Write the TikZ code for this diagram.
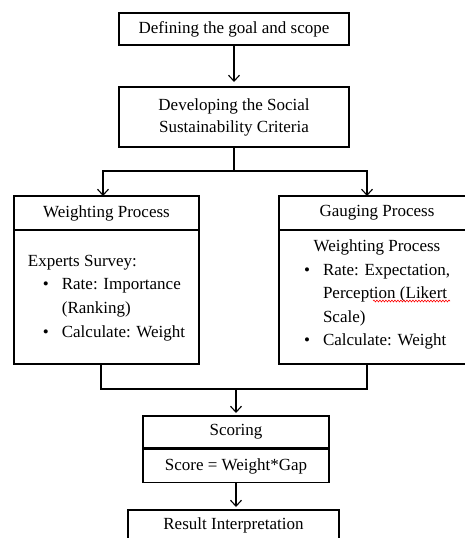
\documentclass[tikz,border=0pt]{standalone}
\usepackage{fontspec}
\setmainfont{Liberation Serif}
\usetikzlibrary{arrows.meta, positioning, decorations.pathmorphing}
\newcommand{\bul}{\makebox[19pt][l]{\textbullet}}

\begin{document}
\begin{tikzpicture}[
  x=1pt, y=1pt,
  box/.style={draw=black, line width=1.1pt, outer sep=0pt, inner sep=2pt,
              align=center, font=\fontsize{17}{22}\selectfont},
  line/.style={draw=black, line width=1.1pt},
  arr/.style={line, -{Straight Barb[length=6pt, width=11pt, line width=1.1pt]},
              shorten >=3pt},
  node distance=42pt,
]
  \useasboundingbox (0,0) rectangle (465,-538);

  \node[box, minimum width=230pt, minimum height=32pt] (goal) at (234,-29)
    {Defining the goal and scope};
  \node[box, minimum width=230pt, minimum height=60pt, below=of goal] (crit)
    {Developing the Social\\Sustainability Criteria};

  % the two processes
  \node[box, minimum width=185pt, minimum height=34pt] (whdr) at (106.5,-213)
    {Weighting Process};
  \node[box, minimum width=185pt, minimum height=134pt, below=0pt of whdr] (wbody)
    {\renewcommand\arraystretch{1.07}\begin{tabular}{@{}l@{}l@{}}
      \multicolumn{2}{@{}l@{}}{Experts Survey:}\\
      \hspace*{15pt}\bul & Rate: Importance\\
       & (Ranking)\\
      \hspace*{15pt}\bul & Calculate: Weight
    \end{tabular}};
  \node[box, minimum width=196pt, minimum height=34pt] (ghdr) at (377,-213)
    {Gauging Process};
  \node[box, minimum width=196pt, minimum height=134pt, below=0pt of ghdr] (gbody)
    {\renewcommand\arraystretch{1.07}\raisebox{3pt}[\height][\depth]{\begin{tabular}{@{}l@{}l@{}}
      \multicolumn{2}{@{}c@{}}{Weighting Process}\\
      \bul & Rate: Expectation,\\
       & Perception (Likert\\
       & Scale)\\
      \bul & Calculate: Weight
    \end{tabular}}};

  % scoring and result
  \node[box, minimum width=186pt, minimum height=32pt] (score) at (236,-432)
    {Scoring};
  \node[box, minimum width=186pt, minimum height=33pt, below=1.5pt of score] (formula)
    {Score = Weight*Gap};
  \node[box, minimum width=211pt, anchor=north, text height=12pt, text depth=14pt,
        inner ysep=7pt] (result) at (233.5,-510)
    {Result Interpretation};

  \draw[arr, shorten >=5pt] (goal) -- (crit);
  \draw[line] (crit.south) -- ++(0,-24) coordinate (split);
  \draw[arr, shorten >=0pt] (split) -| ([xshift=-3.5pt]whdr.north);
  \draw[arr, shorten >=0pt] (split) -| ([xshift=-10pt]ghdr.north);

  \path (wbody.south -| score.north) ++(0,-25) coordinate (join);
  \draw[line] ([xshift=-5.5pt]wbody.south) |- (join) -| ([xshift=-10pt]gbody.south);
  \draw[arr] (join) -- (score);
  \draw[arr] (formula) -- (formula |- result.north);

  % spell-check mark
  \draw[red, line width=0.6pt, decorate,
        decoration={snake, amplitude=0.9pt, segment length=3pt}]
    (373,-301) -- (450,-301);
\end{tikzpicture}
\end{document}
